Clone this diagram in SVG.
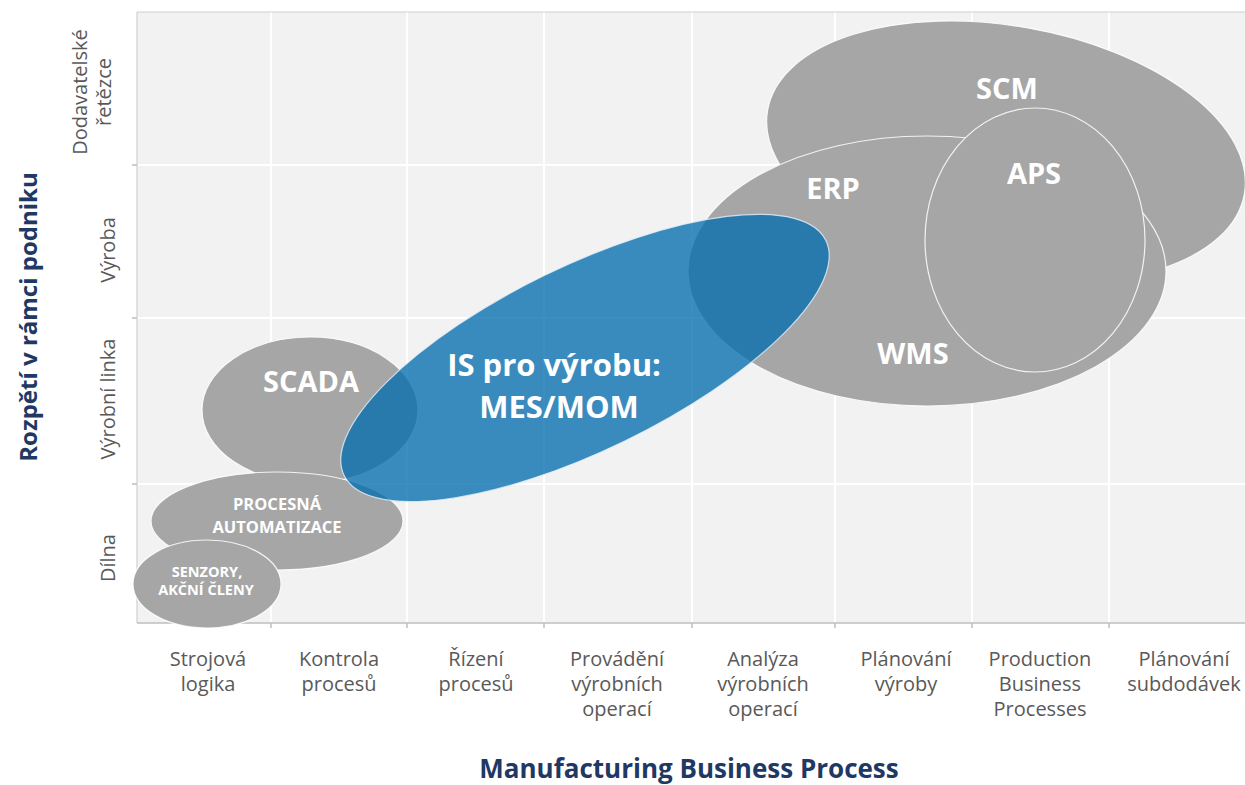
<svg xmlns="http://www.w3.org/2000/svg" width="1245" height="785" viewBox="0 0 1245 785">
<style>
.bg{fill:#ffffff}
.plot{fill:#f2f2f2}
.grid{stroke:#ffffff;stroke-width:2;fill:none}
.frame{stroke:#d0d0d0;stroke-width:1.2;fill:none}
.axis{stroke:#bfbfbf;stroke-width:1.5;fill:none}
.gray{fill:#a6a6a6;stroke:#ffffff;stroke-width:1.2;stroke-opacity:0.85}
.blue{fill:rgb(5,110,176);fill-opacity:0.78;stroke:#e6f0f8;stroke-width:1.2;stroke-opacity:0.8}
.lbl{font-family:"Open Sans","Noto Sans","DejaVu Sans",sans-serif;fill:#595959;font-size:20px;text-anchor:middle}
.title{font-family:"Open Sans","Noto Sans","DejaVu Sans",sans-serif;fill:#1f3864;font-weight:700;text-anchor:middle}
.w{font-family:"Open Sans","Noto Sans","DejaVu Sans",sans-serif;fill:#ffffff;font-weight:700;text-anchor:middle}
</style>
<rect class="bg" x="0" y="0" width="1245" height="785"/>
<g id="plot-area">
<rect class="plot" x="137" y="12" width="1108" height="611"/>
<path class="grid" d="M271 12V623M407 12V623M544 12V623M692 12V623M835 12V623M972 12V623M1109 12V623M137 165H1245M137 318H1245M137 484H1245"/>
<path class="frame" d="M137 12H1245M137 12V623"/>
<path class="axis" d="M137 623H1245M271 623V628M407 623V628M544 623V628M692 623V628M835 623V628M972 623V628M1109 623V628M132 165H137M132 318H137M132 484H137"/>
</g>
<g id="scm"><ellipse class="gray" cx="1006" cy="152" rx="242" ry="126" transform="rotate(10 1006 152)"/><text class="w" x="1007" y="99" font-size="29">SCM</text></g>
<g id="erp"><ellipse class="gray" cx="927" cy="271" rx="239" ry="135"/><text class="w" x="833" y="199" font-size="29">ERP</text><text class="w" x="913" y="364" font-size="29">WMS</text></g>
<g id="aps"><ellipse class="gray" cx="1035" cy="240" rx="110" ry="132" stroke-width="1.5"/><text class="w" x="1034" y="184" font-size="29">APS</text></g>
<g id="scada"><ellipse class="gray" cx="310" cy="410" rx="108" ry="73"/><text class="w" x="311" y="392" font-size="29">SCADA</text></g>
<g id="procesna"><ellipse class="gray" cx="277" cy="521" rx="126" ry="49"/><text class="w" x="277" y="510" font-size="16.5">PROCESNÁ</text><text class="w" x="277" y="533" font-size="16.5">AUTOMATIZACE</text></g>
<g id="senzory"><ellipse class="gray" cx="207" cy="584" rx="74" ry="44"/><text class="w" x="207" y="577" font-size="14.5">SENZORY,</text><text class="w" x="206" y="595" font-size="14.5">AKČNÍ ČLENY</text></g>
<g id="mes"><ellipse class="blue" cx="585" cy="358" rx="268" ry="92" transform="rotate(-26 585 358)"/><text class="w" x="554" y="376" font-size="31">IS pro výrobu:</text><text class="w" x="559" y="418" font-size="31">MES/MOM</text></g>
<g id="connectors"/>
<g id="y-axis">
<text class="title" font-size="24" transform="translate(37,317) rotate(-90)">Rozpětí v rámci podniku</text>
<text class="lbl" transform="translate(87,92) rotate(-90)">Dodavatelské</text>
<text class="lbl" transform="translate(111,92) rotate(-90)">řetězce</text>
<text class="lbl" transform="translate(115,250) rotate(-90)">Výroba</text>
<text class="lbl" transform="translate(115,399) rotate(-90)">Výrobní linka</text>
<text class="lbl" transform="translate(115,558) rotate(-90)">Dílna</text>
</g>
<g id="x-axis">
<text class="lbl" x="208" y="666">Strojová</text><text class="lbl" x="208" y="691">logika</text>
<text class="lbl" x="339" y="666">Kontrola</text><text class="lbl" x="339" y="691">procesů</text>
<text class="lbl" x="476" y="666">Řízení</text><text class="lbl" x="476" y="691">procesů</text>
<text class="lbl" x="617" y="666">Provádění</text><text class="lbl" x="617" y="691">výrobních</text><text class="lbl" x="617" y="716">operací</text>
<text class="lbl" x="763" y="666">Analýza</text><text class="lbl" x="763" y="691">výrobních</text><text class="lbl" x="763" y="716">operací</text>
<text class="lbl" x="906" y="666">Plánování</text><text class="lbl" x="906" y="691">výroby</text>
<text class="lbl" x="1040" y="666">Production</text><text class="lbl" x="1040" y="691">Business</text><text class="lbl" x="1040" y="716">Processes</text>
<text class="lbl" x="1184" y="666">Plánování</text><text class="lbl" x="1184" y="691">subdodávek</text>
<text class="title" font-size="26" x="689" y="778">Manufacturing Business Process</text>
</g>
</svg>
